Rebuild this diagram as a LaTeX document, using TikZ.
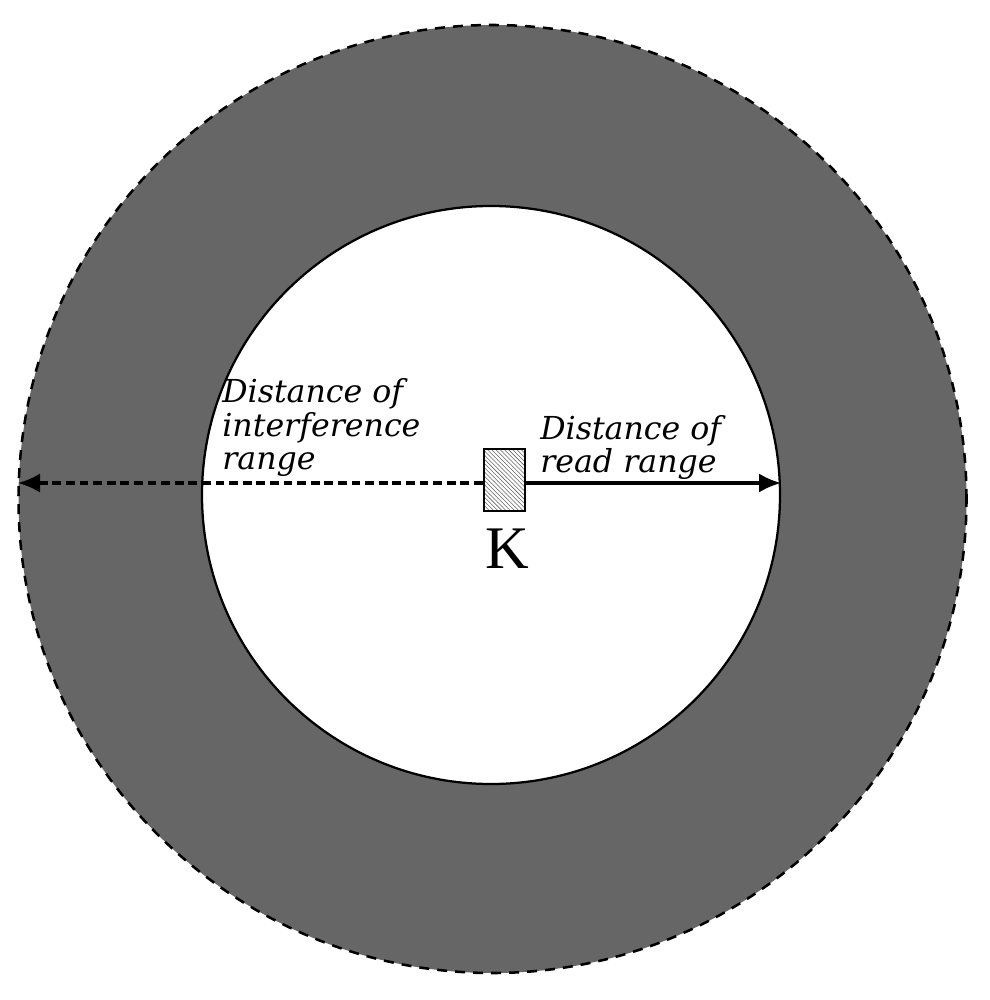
\documentclass[tikz,border=0pt]{standalone}
\usepackage{fontspec}
\setmainfont{Liberation Serif}
\newfontfamily\lblfont{DejaVu Serif}
\usetikzlibrary{arrows.meta,patterns}
\tikzset{
  lbl/.style={font=\lblfont\itshape\fontsize{22.5}{26}\selectfont, inner sep=0pt, anchor=base west},
  ringline/.style={draw=black, line width=1.6pt},
  arr/.style={line width=2.2pt, -{Latex[length=5.5mm,width=4.8mm]}},
}
\begin{document}
\begin{tikzpicture}[x=0.025cm,y=-0.025cm]
\useasboundingbox (0,0) rectangle (990,1000);
% outer ring
\node[circle, minimum size=948*0.025cm, inner sep=0pt, fill=black!60, ringline, line width=1.8pt, dash pattern=on 0.25cm off 0.2cm] (outer) at (492.5,499) {};
% inner circle
\node[circle, minimum size=578*0.025cm, inner sep=0pt, fill=white, ringline] (inner) at (491,495) {};
% reader K
\node[rectangle, minimum width=41*0.025cm, minimum height=62*0.025cm, inner sep=0pt, fill=white, pattern=north west lines, pattern color=black!60, draw=black, line width=1.6pt] (K) at (504.5,480) {};
\node[font=\fontsize{43}{43}\selectfont, inner sep=0pt, anchor=base] (Klbl) at (507,568) {K};
% endpoints
\coordinate (lend) at (18,483);
\coordinate (rend) at (781,483);
\draw[arr, dash pattern=on 0.22cm off 0.12cm] (K.west |- lend) -- (lend);
\draw[arr] (K.east |- rend) -- (rend);
% labels
\node[lbl] (i1) at (222,402) {Distance of};
\node[lbl] (i2) at (222,436) {interference};
\node[lbl] (i3) at (222,469) {range};
\node[lbl] (r1) at (540,439) {Distance of};
\node[lbl] (r2) at (540,472) {read range};
\end{tikzpicture}
\end{document}
